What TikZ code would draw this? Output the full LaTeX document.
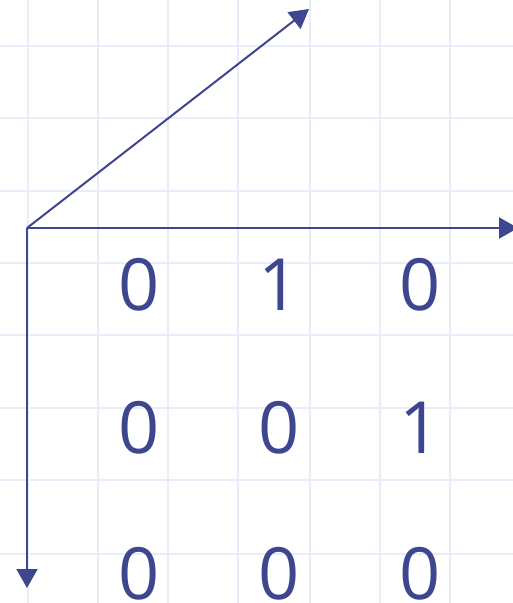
\documentclass[tikz,border=0pt]{standalone}
\usepackage{fontspec}
\setmainfont{Open Sans}
\usetikzlibrary{arrows.meta}
\definecolor{ink}{HTML}{3E4690}
\definecolor{gridc}{HTML}{E9EDFA}
\begin{document}
\begin{tikzpicture}[x=1pt,y=-1pt,
  gridline/.style={draw=gridc,line width=2pt},
  axis/.style={draw=ink,line width=2pt,-{Triangle[length=19pt,width=21pt]}},
  digit/.style={text=ink,inner sep=0pt,font=\fontsize{72}{72}\selectfont}]
\useasboundingbox (0,0) rectangle (513,603);
\fill[white] (0,0) rectangle (513,603);
\foreach \x in {28,98,168,238,310,380,450}
  \draw[gridline] (\x,0) -- (\x,603);
\foreach \y in {45.7,117.7,190.7,263.3,335,407.7,480.3,554}
  \draw[gridline] (0,\y) -- (513,\y);
\coordinate (O) at (27,228);
\coordinate (X) at (518,228);
\coordinate (Y) at (27,588);
\coordinate (Z) at (309,9);
\draw[axis] (O) -- (X);
\draw[axis] (O) -- (Y);
\draw[axis] (O) -- (Z);
\node[digit] (a11) at (139,285) {0};
\node[digit] (a12) at (279,285) {1};
\node[digit] (a13) at (420,285) {0};
\node[digit] (a21) at (139,428) {0};
\node[digit] (a22) at (279,428) {0};
\node[digit] (a23) at (420,428) {1};
\node[digit] (a31) at (139,574) {0};
\node[digit] (a32) at (279,574) {0};
\node[digit] (a33) at (420,574) {0};
\end{tikzpicture}
\end{document}
